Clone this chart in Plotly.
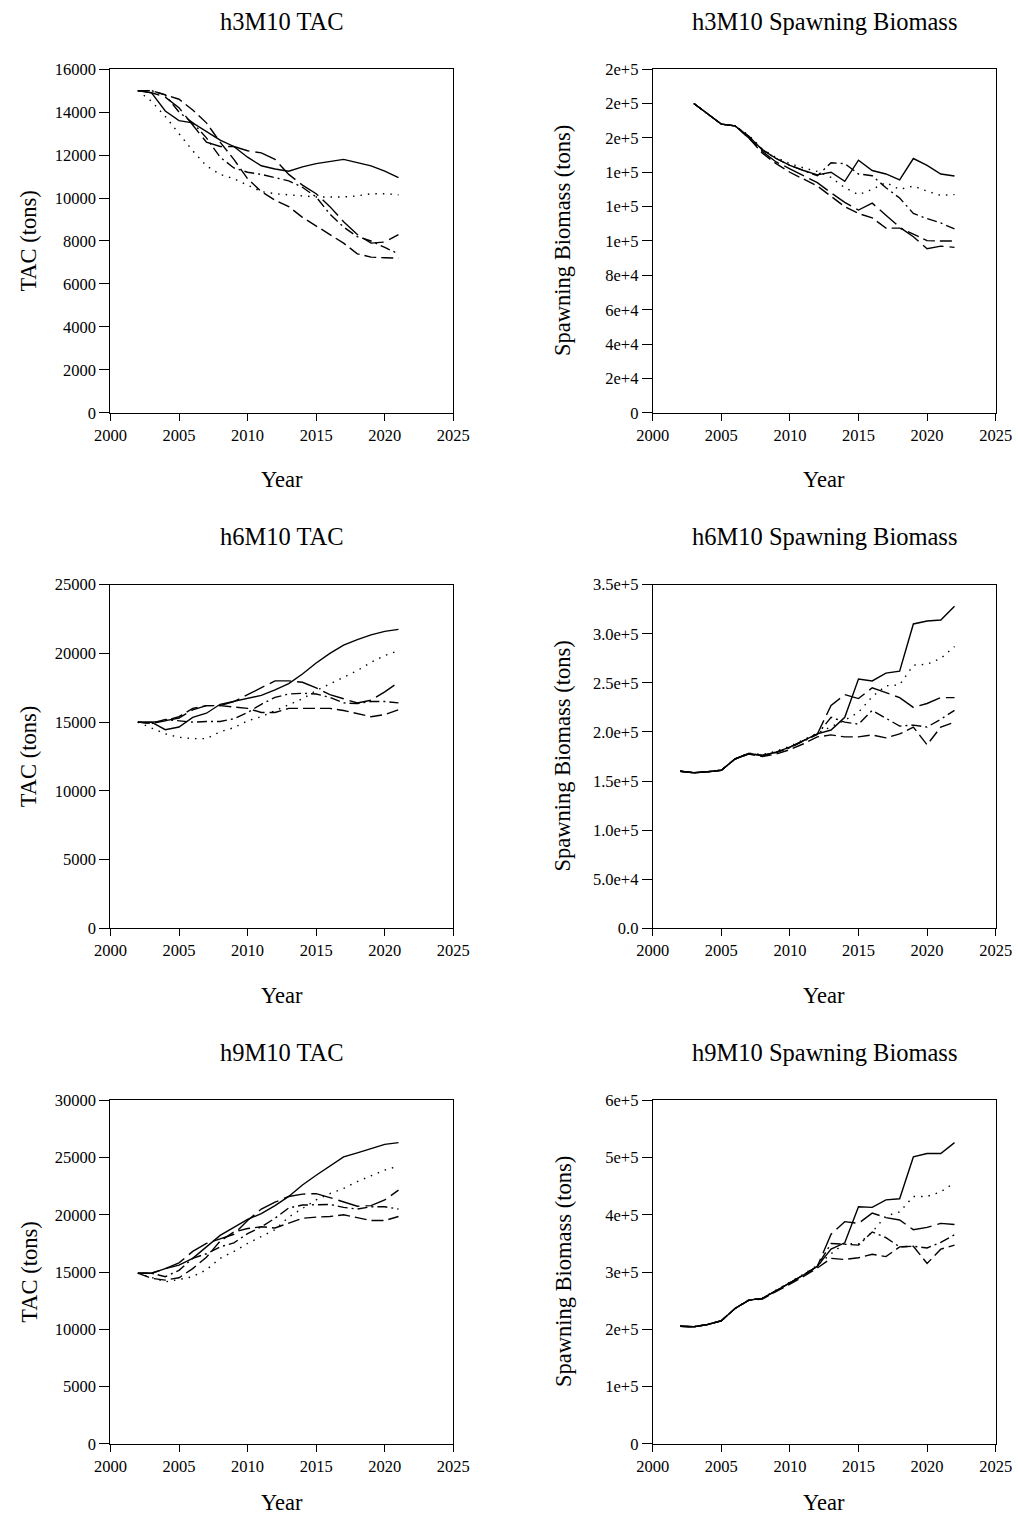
import plotly.graph_objects as go

# ---------------- data ----------------
yrs_tac = list(range(2002, 2022))
yrs_sb3 = list(range(2003, 2023))
yrs_sb = list(range(2002, 2023))

# h3M10 TAC (tons)
h3_tac_a = [15000, 14900, 14050, 13600, 13500, 13100, 12700, 12400, 11900, 11500, 11350, 11250, 11450, 11600, 11700, 11800, 11650, 11500, 11250, 10950]
h3_tac_b = [15000, 14500, 13800, 13000, 12200, 11500, 11100, 10900, 10600, 10300, 10200, 10150, 10100, 10050, 10050, 10050, 10100, 10200, 10200, 10150]
h3_tac_c = [15000, 15000, 14800, 14000, 13500, 12800, 11900, 11400, 11200, 11100, 10950, 10800, 10500, 10050, 9250, 8650, 8200, 8000, 7700, 7400]
h3_tac_d = [15000, 14900, 14700, 14200, 13400, 12600, 12400, 12400, 12200, 12100, 11800, 11100, 10600, 10200, 9600, 8900, 8300, 7900, 7950, 8300]
h3_tac_e = [15000, 15000, 14800, 14600, 14100, 13500, 12600, 11800, 10900, 10300, 9900, 9600, 9100, 8700, 8300, 7900, 7400, 7250, 7220, 7200]

# h3M10 Spawning biomass (tons)
h3_sb_a = [180000, 174000, 168000, 167000, 161000, 153000, 148000, 144000, 141000, 138500, 140000, 134700, 147000, 141000, 139000, 135500, 148000, 144000, 139000, 137800]
h3_sb_b = [180000, 174000, 168000, 167000, 161500, 153500, 148500, 145000, 142500, 140500, 137000, 131000, 127000, 130000, 134000, 130000, 132000, 129000, 126500, 127000]
h3_sb_c = [180000, 174000, 168000, 167000, 161000, 153000, 148000, 144000, 141000, 138000, 145500, 145000, 139000, 138000, 131000, 125000, 116000, 113000, 110500, 107000]
h3_sb_d = [180000, 174000, 168000, 167000, 160000, 152000, 146000, 142000, 138000, 134000, 128000, 122500, 118000, 122000, 115000, 108000, 102500, 95500, 97000, 96300]
h3_sb_e = [180000, 174000, 168000, 167000, 160000, 151000, 145000, 140000, 136000, 132000, 126000, 120000, 116000, 113500, 107500, 107500, 104000, 100200, 100000, 100000]

# h6M10 TAC (tons)
h6_tac_a = [15000, 15000, 14450, 14650, 15350, 15650, 16300, 16500, 16750, 16950, 17350, 17800, 18500, 19300, 20000, 20600, 21000, 21350, 21600, 21750]
h6_tac_b = [15000, 14600, 14150, 13900, 13800, 13800, 14300, 14600, 15100, 15400, 15850, 16300, 16700, 17300, 17800, 18300, 18750, 19350, 19850, 20200]
h6_tac_c = [15000, 14900, 15200, 15100, 15000, 15050, 15050, 15250, 15700, 16300, 16800, 17050, 17100, 17050, 16800, 16400, 16350, 16500, 16500, 16400]
h6_tac_d = [15000, 15000, 15100, 15300, 15900, 16200, 16200, 16500, 17000, 17500, 18000, 18000, 17900, 17500, 17000, 16700, 16400, 16600, 17200, 17900]
h6_tac_e = [15000, 14900, 15100, 15400, 16000, 16200, 16200, 16100, 16000, 15700, 15700, 16000, 16000, 16000, 16000, 15850, 15600, 15400, 15550, 15900]

# h6M10 Spawning biomass (tons)
h6_sb_a = [160000, 158500, 159500, 161000, 172500, 178000, 176000, 179500, 184500, 191000, 198000, 202000, 215000, 254000, 252000, 260000, 262000, 310000, 313000, 314000, 328000]
h6_sb_b = [160000, 158500, 159500, 161000, 172500, 178500, 177000, 180500, 185500, 192000, 199000, 205000, 212000, 220000, 236000, 247000, 248000, 268000, 269000, 275000, 287000]
h6_sb_c = [160000, 158500, 159500, 161000, 172500, 178000, 176000, 179000, 184000, 190500, 197500, 215000, 210000, 208000, 222000, 214000, 206000, 207000, 205000, 213000, 222000]
h6_sb_d = [160000, 158500, 159500, 161000, 172500, 178000, 176000, 179500, 184500, 191000, 198000, 227000, 238000, 234000, 245000, 240000, 235000, 225000, 229000, 235000, 235000]
h6_sb_e = [160000, 158500, 159500, 161000, 172500, 177500, 175000, 177500, 182000, 188000, 195000, 197000, 195000, 195000, 197000, 194000, 198000, 205000, 187000, 205000, 210000]

# h9M10 TAC (tons)
h9_tac_a = [14900, 14900, 15300, 15600, 16200, 17200, 18200, 18900, 19600, 20100, 20800, 21600, 22600, 23450, 24250, 25050, 25400, 25800, 26150, 26300]
h9_tac_b = [14900, 14500, 14150, 14350, 14600, 15200, 16200, 16800, 17500, 18100, 18700, 19800, 20550, 21300, 21850, 22300, 22900, 23400, 23900, 24250]
h9_tac_c = [14900, 14900, 14600, 15150, 16200, 16600, 17200, 17550, 18350, 18950, 19700, 20600, 20850, 20900, 20900, 20650, 20500, 20700, 20700, 20500]
h9_tac_d = [14900, 14900, 15300, 15800, 16800, 17500, 17900, 18300, 19500, 20500, 21100, 21600, 21800, 21850, 21500, 21100, 20750, 20800, 21300, 22150]
h9_tac_e = [14900, 14450, 14300, 14500, 15300, 16300, 17700, 18500, 18800, 18950, 18850, 19300, 19700, 19800, 19850, 20000, 19750, 19500, 19500, 19850]

# h9M10 Spawning biomass (tons)
h9_sb_a = [205500, 204500, 208500, 215000, 236500, 251000, 254000, 267000, 281000, 295000, 310000, 340000, 351000, 414000, 413000, 426000, 428000, 501000, 507000, 507000, 526000]
h9_sb_b = [205500, 204500, 208500, 215000, 236500, 251500, 255000, 268500, 282500, 296500, 311500, 332000, 350000, 349000, 370000, 398000, 405000, 432000, 432000, 440000, 456000]
h9_sb_c = [205500, 204500, 208500, 215000, 236500, 251000, 254000, 267000, 281000, 295000, 310000, 350000, 348000, 347000, 370000, 360000, 344000, 345000, 342000, 352000, 365000]
h9_sb_d = [205500, 204500, 208500, 215000, 236500, 251000, 254000, 267000, 281000, 295000, 310000, 366000, 388000, 385000, 403000, 395000, 391000, 374000, 378000, 385000, 383000]
h9_sb_e = [205500, 204500, 208500, 215000, 236500, 250500, 253000, 265500, 279000, 292500, 307000, 324000, 322000, 325000, 331000, 327000, 344000, 345000, 315000, 340000, 347000]

# tick labels
tac3_ticks = [0, 2000, 4000, 6000, 8000, 10000, 12000, 14000, 16000]
sb3_ticks = [0, 20000, 40000, 60000, 80000, 100000, 120000, 140000, 160000, 180000, 200000]
sb3_labels = ["0", "2e+4", "4e+4", "6e+4", "8e+4", "1e+5", "1e+5", "1e+5", "2e+5", "2e+5", "2e+5"]
tac6_ticks = [0, 5000, 10000, 15000, 20000, 25000]
sb6_ticks = [0, 50000, 100000, 150000, 200000, 250000, 300000, 350000]
sb6_labels = ["0.0", "5.0e+4", "1.0e+5", "1.5e+5", "2.0e+5", "2.5e+5", "3.0e+5", "3.5e+5"]
tac9_ticks = [0, 5000, 10000, 15000, 20000, 25000, 30000]
sb9_ticks = [0, 100000, 200000, 300000, 400000, 500000, 600000]
sb9_labels = ["0", "1e+5", "2e+5", "3e+5", "4e+5", "5e+5", "6e+5"]
year_ticks = [2000, 2005, 2010, 2015, 2020, 2025]

titles = ["h3M10 TAC", "h3M10 Spawning Biomass", "h6M10 TAC",
          "h6M10 Spawning Biomass", "h9M10 TAC", "h9M10 Spawning Biomass"]
ytitles = ["TAC (tons)", "Spawning Biomass (tons)"] * 3

# ---------------- layout geometry ----------------
W, H = 1018, 1522
FONT = "Liberation Serif"
# target positions (pixels in the photographed page); the photo of this page
# comes out slightly shrunk and centred, so the targets are mapped back.
SX, OX = 0.9696, 15.3
SY, OY = 0.9884, 7.8
col_px = [(109, 453), (653, 997)]
row_px = [(68, 412), (584, 928), (1100, 1444)]
title_off, year_off = 48, 67
ytitle_px = [21, 563]


def fx(p):
    return ((p - OX) / SX) / W


def fy(p):
    return 1 - ((p - OY) / SY) / H


dashes = ["solid", "1.5px,6px", "10px,4px,2px,4px", "22px,6px", "12px,5px"]

panels = [
    (yrs_tac, [h3_tac_a, h3_tac_b, h3_tac_c, h3_tac_d, h3_tac_e], tac3_ticks, [str(v) for v in tac3_ticks], 16000),
    (yrs_sb3, [h3_sb_a, h3_sb_b, h3_sb_c, h3_sb_d, h3_sb_e], sb3_ticks, sb3_labels, 200000),
    (yrs_tac, [h6_tac_a, h6_tac_b, h6_tac_c, h6_tac_d, h6_tac_e], tac6_ticks, [str(v) for v in tac6_ticks], 25000),
    (yrs_sb, [h6_sb_a, h6_sb_b, h6_sb_c, h6_sb_d, h6_sb_e], sb6_ticks, sb6_labels, 350000),
    (yrs_tac, [h9_tac_a, h9_tac_b, h9_tac_c, h9_tac_d, h9_tac_e], tac9_ticks, [str(v) for v in tac9_ticks], 30000),
    (yrs_sb, [h9_sb_a, h9_sb_b, h9_sb_c, h9_sb_d, h9_sb_e], sb9_ticks, sb9_labels, 600000),
]

fig = go.Figure()
annotations = []
layout_axes = {}

for i, (xs, series, yt, ylab, ymax) in enumerate(panels):
    r, c = divmod(i, 2)
    n = i + 1
    xa = "x" if n == 1 else f"x{n}"
    ya = "y" if n == 1 else f"y{n}"
    for s, d in zip(series, dashes):
        fig.add_trace(go.Scatter(x=xs, y=s, mode="lines", xaxis=xa, yaxis=ya,
                                 line=dict(color="black", width=1.4, dash=d),
                                 showlegend=False, hoverinfo="skip"))
    x0, x1 = col_px[c]
    y0, y1 = row_px[r]
    xkey = "xaxis" if n == 1 else f"xaxis{n}"
    ykey = "yaxis" if n == 1 else f"yaxis{n}"
    layout_axes[xkey] = dict(
        domain=[fx(x0), fx(x1)], anchor=ya, range=[2000, 2025],
        tickvals=year_ticks, ticktext=[str(v) for v in year_ticks],
        ticks="outside", ticklen=7, tickwidth=1, tickcolor="black",
        showline=True, linecolor="black", linewidth=1, mirror=True,
        showgrid=False, zeroline=False,
        tickfont=dict(family=FONT, size=16.5, color="black"))
    layout_axes[ykey] = dict(
        domain=[fy(y1), fy(y0)], anchor=xa, range=[0, ymax],
        tickvals=yt, ticktext=ylab,
        ticks="outside", ticklen=10, tickwidth=1, tickcolor="black",
        showline=True, linecolor="black", linewidth=1, mirror=True,
        showgrid=False, zeroline=False,
        tickfont=dict(family=FONT, size=16.5, color="black"))
    cx = (x0 + x1) / 2
    cy = (y0 + y1) / 2
    annotations.append(dict(text=titles[i], x=fx(cx), y=fy(y0 - title_off), xref="paper", yref="paper",
                            showarrow=False, xanchor="center", yanchor="middle",
                            font=dict(family=FONT, size=24.5, color="black")))
    year_y = min(fy(y1 + year_off), 1 - 1512 / H) if r == 2 else fy(y1 + year_off)
    year_y = max(year_y, 1 - 1512 / H)
    annotations.append(dict(text="Year", x=fx(cx), y=year_y, xref="paper", yref="paper",
                            showarrow=False, xanchor="center", yanchor="middle",
                            font=dict(family=FONT, size=22.5, color="black")))
    tx = max(fx(ytitle_px[c]), 12 / W)
    annotations.append(dict(text=ytitles[i], x=tx, y=fy(cy), xref="paper", yref="paper",
                            showarrow=False, xanchor="center", yanchor="middle", textangle=-90,
                            font=dict(family=FONT, size=22.5, color="black")))

fig.update_layout(
    width=W, height=H, margin=dict(l=0, r=0, t=0, b=0),
    paper_bgcolor="white", plot_bgcolor="white",
    annotations=annotations, **layout_axes)

fig.write_html("out.html", config={"displayModeBar": False})
